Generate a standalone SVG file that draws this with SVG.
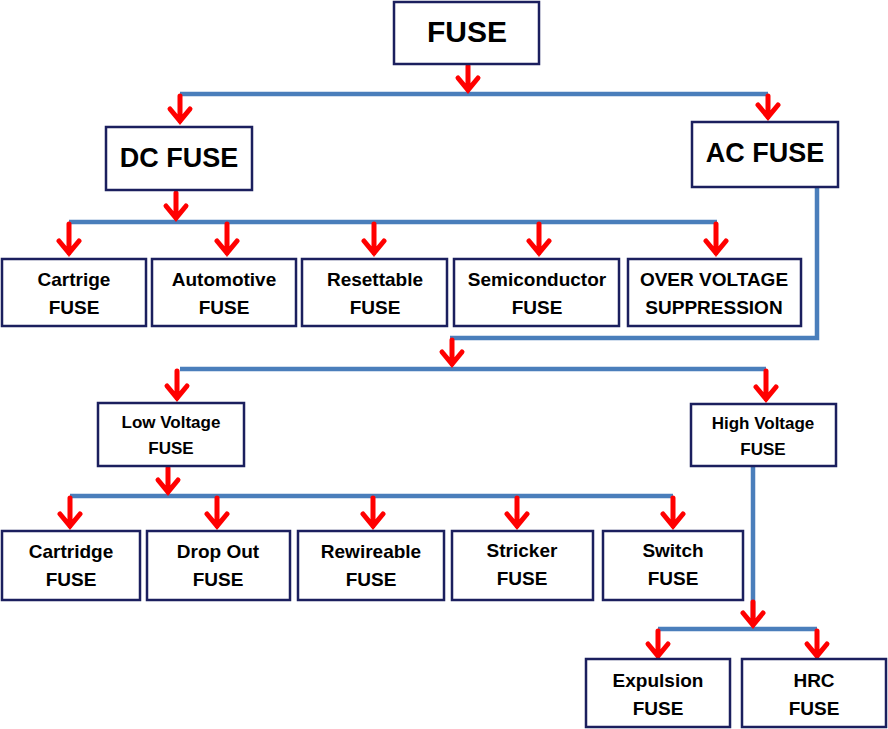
<svg xmlns="http://www.w3.org/2000/svg" width="888" height="729" viewBox="0 0 888 729">
<defs>
<style>
.box{fill:#fff;stroke:#1b1f5e;stroke-width:2.5}
.ln{fill:none;stroke:#4a7ebb;stroke-width:4.5}
.ar{fill:none;stroke:#ff0000;stroke-width:5;stroke-linecap:round;stroke-linejoin:miter}
text{font-family:"Liberation Sans",Arial,sans-serif;font-weight:bold;fill:#000;text-anchor:middle}
.t1{font-size:30px}
.t2{font-size:27px}
.t3{font-size:19px}
.t4{font-size:17px}
</style>
</defs>
<rect width="888" height="729" fill="#fff"/>
<g id="connectors">
<polyline class="ln" points="180,94 768,94"/>
<polyline class="ln" points="69,222 717,222"/>
<polyline class="ln" points="817,187 817,338 450,338"/>
<polyline class="ln" points="180,369 766,369"/>
<polyline class="ln" points="70,496 673,496"/>
<polyline class="ln" points="753,466 753,622"/>
<polyline class="ln" points="658,629 817,629"/>
<path class="ar" d="M468,66V90M458,78L468,90L478,78"/>
<path class="ar" d="M180,96V121M170,109L180,121L190,109"/>
<path class="ar" d="M768,96V117M758,105L768,117L778,105"/>
<path class="ar" d="M176,193V218M166,206L176,218L186,206"/>
<path class="ar" d="M69,224V253M59,241L69,253L79,241"/>
<path class="ar" d="M227,224V253M217,241L227,253L237,241"/>
<path class="ar" d="M374,224V253M364,241L374,253L384,241"/>
<path class="ar" d="M539,224V253M529,241L539,253L549,241"/>
<path class="ar" d="M716,224V253M706,241L716,253L726,241"/>
<path class="ar" d="M452,340V364M442,352L452,364L462,352"/>
<path class="ar" d="M177,371V398M167,386L177,398L187,386"/>
<path class="ar" d="M766,371V399M756,387L766,399L776,387"/>
<path class="ar" d="M168,468V492M158,480L168,492L178,480"/>
<path class="ar" d="M70,498V526M60,514L70,526L80,514"/>
<path class="ar" d="M217,498V526M207,514L217,526L227,514"/>
<path class="ar" d="M373,498V526M363,514L373,526L383,514"/>
<path class="ar" d="M517,498V526M507,514L517,526L527,514"/>
<path class="ar" d="M673,498V526M663,514L673,526L683,514"/>
<path class="ar" d="M753,602V625M743,613L753,625L763,613"/>
<path class="ar" d="M658,631V656M648,644L658,656L668,644"/>
<path class="ar" d="M817,631V656M807,644L817,656L827,644"/>
</g>
<g id="fuse"><rect class="box" x="394" y="2" width="145" height="62"/><text class="t1" x="467" y="42">FUSE</text></g>
<g id="dc"><rect class="box" x="106" y="127" width="146" height="63"/><text class="t2" x="179" y="167">DC FUSE</text></g>
<g id="ac"><rect class="box" x="692" y="122" width="146" height="65"/><text class="t2" x="765" y="162">AC FUSE</text></g>
<g id="cartrige"><rect class="box" x="2" y="259" width="144" height="67"/><text class="t3" x="74" y="286">Cartrige</text><text class="t3" x="74" y="314">FUSE</text></g>
<g id="automotive"><rect class="box" x="152" y="259" width="144" height="67"/><text class="t3" x="224" y="286">Automotive</text><text class="t3" x="224" y="314">FUSE</text></g>
<g id="resettable"><rect class="box" x="302" y="259" width="145" height="67"/><text class="t3" x="375" y="286">Resettable</text><text class="t3" x="375" y="314">FUSE</text></g>
<g id="semiconductor"><rect class="box" x="454" y="259" width="165" height="67"/><text class="t3" x="537" y="286">Semiconductor</text><text class="t3" x="537" y="314">FUSE</text></g>
<g id="overvoltage"><rect class="box" x="628" y="259" width="173" height="67"/><text class="t3" x="714" y="286">OVER VOLTAGE</text><text class="t3" x="714" y="314">SUPPRESSION</text></g>
<g id="lowvoltage"><rect class="box" x="98" y="403" width="146" height="63"/><text class="t4" x="171" y="428">Low Voltage</text><text class="t4" x="171" y="454">FUSE</text></g>
<g id="highvoltage"><rect class="box" x="691" y="404" width="145" height="62"/><text class="t4" x="763" y="429">High Voltage</text><text class="t4" x="763" y="455">FUSE</text></g>
<g id="cartridge"><rect class="box" x="2" y="531" width="138" height="69"/><text class="t3" x="71" y="558">Cartridge</text><text class="t3" x="71" y="586">FUSE</text></g>
<g id="dropout"><rect class="box" x="147" y="531" width="143" height="69"/><text class="t3" x="218" y="558">Drop Out</text><text class="t3" x="218" y="586">FUSE</text></g>
<g id="rewireable"><rect class="box" x="298" y="531" width="146" height="69"/><text class="t3" x="371" y="558">Rewireable</text><text class="t3" x="371" y="586">FUSE</text></g>
<g id="stricker"><rect class="box" x="452" y="531" width="141" height="69"/><text class="t3" x="522" y="557">Stricker</text><text class="t3" x="522" y="585">FUSE</text></g>
<g id="switch"><rect class="box" x="603" y="531" width="140" height="69"/><text class="t3" x="673" y="557">Switch</text><text class="t3" x="673" y="585">FUSE</text></g>
<g id="expulsion"><rect class="box" x="586" y="659" width="144" height="68"/><text class="t3" x="658" y="687">Expulsion</text><text class="t3" x="658" y="715">FUSE</text></g>
<g id="hrc"><rect class="box" x="742" y="659" width="144" height="68"/><text class="t3" x="814" y="687">HRC</text><text class="t3" x="814" y="715">FUSE</text></g>
</svg>
